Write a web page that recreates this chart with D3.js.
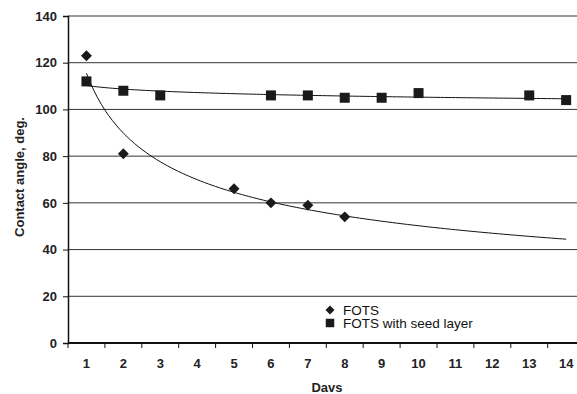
<!DOCTYPE html>
<html>
<head>
<meta charset="utf-8">
<script src="https://cdn.jsdelivr.net/npm/d3@7"></script>
<style>
  body { margin: 0; background: #fff; }
  svg { display: block; font-family: Arial, "Liberation Sans", sans-serif; }
  .tick text { font-weight: bold; font-size: 13px; fill: #222; }
</style>
</head>
<body>
<div id="chartDiv"></div>
<script>
// data
const days = d3.range(1, 15)
const fotsDays = [1, 2, 5, 6, 7, 8]
const fotsAngle = [123, 81, 66, 60, 59, 54]
const seedDays = [1, 2, 3, 6, 7, 8, 9, 10, 13, 14]
const seedAngle = [112, 108, 106, 106, 106, 105, 105, 107, 106, 104]
const yTicks = [0, 20, 40, 60, 80, 100, 120, 140]

const W = 577, H = 394
const margin = { left: 68, top: 16, bottom: 51 }
const bandW = 36.9

let svg = d3.select('#chartDiv').append('svg').attr('width', W).attr('height', H)

let x = d3.scaleBand().domain(days).range([margin.left, margin.left + bandW * days.length])
let y = d3.scaleLinear().domain([0, 140]).range([H - margin.bottom, margin.top])
let cx = d => x(d) + x.bandwidth() / 2

// power trend y = a*x^b, least squares on logs (like a spreadsheet trendline)
function powerFit(xs, ys){
    let lx = xs.map(Math.log), ly = ys.map(Math.log)
    let mx = d3.mean(lx), my = d3.mean(ly)
    let sxy = d3.sum(lx, (v, i) => (v - mx) * (ly[i] - my))
    let sxx = d3.sum(lx, v => (v - mx) * (v - mx))
    let b = sxy / sxx
    let a = Math.exp(my - b * mx)
    return t => a * Math.pow(t, b)
}

// square rotated 45deg (d3's own diamond is too narrow)
const rhombus = {
    draw(ctx, size){
        let r = Math.sqrt(size / 2)
        ctx.moveTo(0, -r); ctx.lineTo(r, 0); ctx.lineTo(0, r); ctx.lineTo(-r, 0); ctx.closePath()
    }
}

// gridlines
svg.append('g').selectAll('line').data(yTicks.filter(t => t > 0)).enter().append('line')
    .attr('x1', margin.left).attr('x2', W)
    .attr('y1', d => y(d)).attr('y2', d => y(d))
    .attr('stroke', '#333').attr('stroke-width', 1)

// y axis
let yAxis = svg.append('g').attr('transform', `translate(${margin.left},0)`)
    .call(d3.axisLeft(y).tickValues(yTicks).tickSize(5).tickPadding(6))
yAxis.select('.domain').attr('stroke', '#111').attr('stroke-width', 1.5)
yAxis.selectAll('.tick line').attr('stroke', '#111')

// x axis, ticks between categories
let xAxis = svg.append('g').attr('transform', `translate(0,${y(0)})`)
    .call(d3.axisBottom(x).tickSize(0).tickPadding(16))
xAxis.select('.domain').remove()
svg.append('line').attr('x1', margin.left).attr('x2', W)
    .attr('y1', y(0)).attr('y2', y(0)).attr('stroke', '#111').attr('stroke-width', 2)
svg.append('g').selectAll('line').data(days).enter().append('line')
    .attr('x1', d => x(d)).attr('x2', d => x(d))
    .attr('y1', y(0)).attr('y2', y(0) + 5)
    .attr('stroke', '#111')

// trend lines
let tSpan = d3.range(1, 14.001, 0.1)
let line = d3.line().x(d => d.px).y(d => y(d.v))
let xPix = t => cx(1) + (t - 1) * bandW
;[[fotsDays, fotsAngle], [seedDays, seedAngle]].forEach(([xs, ys]) => {
    let f = powerFit(xs, ys)
    svg.append('path')
        .datum(tSpan.map(t => ({ px: xPix(t), v: f(t) })))
        .attr('d', line)
        .attr('fill', 'none').attr('stroke', '#111').attr('stroke-width', 1)
})

// markers
const sqSym = d3.symbol().type(d3.symbolSquare).size(100)
const diSym = d3.symbol().type(rhombus).size(60)
svg.append('g').selectAll('path').data(seedDays).enter().append('path')
    .attr('d', sqSym)
    .attr('transform', (d, i) => `translate(${cx(d)},${y(seedAngle[i])})`)
    .attr('fill', '#1a1a1a')
svg.append('g').selectAll('path').data(fotsDays).enter().append('path')
    .attr('d', diSym)
    .attr('transform', (d, i) => `translate(${cx(d)},${y(fotsAngle[i])})`)
    .attr('fill', '#1a1a1a')

// legend
let leg = svg.append('g').attr('transform', 'translate(330,310)')
leg.append('path').attr('d', d3.symbol().type(rhombus).size(40)).attr('fill', '#1a1a1a')
leg.append('text').attr('x', 13).attr('y', 4.5).attr('font-size', 13.5).attr('fill', '#111').text('FOTS')
leg.append('path').attr('d', d3.symbol().type(d3.symbolSquare).size(72))
    .attr('transform', 'translate(0,13)').attr('fill', '#1a1a1a')
leg.append('text').attr('x', 13).attr('y', 18).attr('font-size', 13.5).attr('fill', '#111').text('FOTS with seed layer')

// axis titles
svg.append('text').attr('x', 327).attr('y', 392)
    .attr('text-anchor', 'middle').attr('font-weight', 'bold').attr('font-size', 13)
    .attr('fill', '#222').text('Davs')
svg.append('text').attr('transform', `translate(24,177) rotate(-90)`)
    .attr('text-anchor', 'middle').attr('font-weight', 'bold').attr('font-size', 13)
    .attr('fill', '#222').text('Contact angle, deg.')
</script>
</body>
</html>
